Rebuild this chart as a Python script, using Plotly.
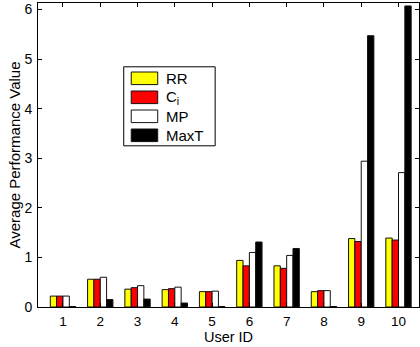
import plotly.graph_objects as go

user_ids = [1, 2, 3, 4, 5, 6, 7, 8, 9, 10]
series_names = ["RR", "C<sub>i</sub>", "MP", "MaxT"]
rr = [0.22, 0.56, 0.36, 0.35, 0.31, 0.94, 0.83, 0.31, 1.38, 1.39]
ci = [0.22, 0.56, 0.39, 0.37, 0.31, 0.83, 0.78, 0.33, 1.32, 1.35]
mp = [0.22, 0.60, 0.43, 0.40, 0.32, 1.10, 1.04, 0.33, 2.94, 2.71]
maxt = [0.01, 0.15, 0.16, 0.08, 0.01, 1.31, 1.18, 0.01, 5.47, 6.07]
series_values = [rr, ci, mp, maxt]
series_colors = ["#ffff00", "#ff0000", "#ffffff", "#000000"]
y_ticks = [0, 1, 2, 3, 4, 5, 6]

W, H = 420, 347
L, R, T, B = 37.7, 1, 2.7, 40.3
pw, ph = W - L - R, H - T - B

def px_x(px):
    return (px - L) / pw

def px_y(py):
    return (H - B - py) / ph

fig = go.Figure()
for name, vals, col in zip(series_names, series_values, series_colors):
    fig.add_trace(go.Bar(x=user_ids, y=vals, name=name, marker_color=col,
                         marker_line_color="#111111", marker_line_width=1,
                         showlegend=False))

font = "Liberation Sans, Arial, sans-serif"

# legend box built from shapes + text
shapes = [dict(type="rect", xref="paper", yref="paper",
               x0=px_x(123.5), x1=px_x(215), y0=px_y(145.5), y1=px_y(66.5),
               line=dict(color="black", width=1), fillcolor="white", layer="above")]
annotations = []
row_centers = [78, 97, 116, 135]
for name, col, yc in zip(series_names, series_colors, row_centers):
    shapes.append(dict(type="rect", xref="paper", yref="paper",
                       x0=px_x(131), x1=px_x(157.5), y0=px_y(yc + 6.3), y1=px_y(yc - 6.3),
                       line=dict(color="#111111", width=1), fillcolor=col, layer="above"))
    annotations.append(dict(xref="paper", yref="paper", x=px_x(163.5), y=px_y(yc),
                            text=name, showarrow=False, xanchor="left", yanchor="middle",
                            font=dict(family=font, size=15, color="black")))

fig.update_layout(
    width=W, height=H,
    margin=dict(l=L, r=R, t=T, b=B, pad=0),
    paper_bgcolor="white", plot_bgcolor="white",
    barmode="group", bargap=0.32, bargroupgap=0,
    font=dict(family=font, size=14, color="black"),
    shapes=shapes, annotations=annotations,
    xaxis=dict(range=[0.33, 10.55], tickvals=user_ids, ticks="inside", ticklen=4,
               tickcolor="black", showline=True, linecolor="black", linewidth=1,
               mirror="ticks", showgrid=False, zeroline=False,
               tickfont=dict(size=13.5), ticklabelstandoff=2,
               title=dict(text="User ID", font=dict(size=14.5), standoff=3)),
    yaxis=dict(range=[0, 6.13], tickvals=y_ticks, ticks="inside", ticklen=4,
               tickcolor="black", showline=True, linecolor="black", linewidth=1,
               mirror="ticks", showgrid=False, zeroline=False,
               tickfont=dict(size=14), ticklabelstandoff=2,
               title=dict(text="Average Performance Value", font=dict(size=15), standoff=0)),
)

fig.write_html("out.html")
